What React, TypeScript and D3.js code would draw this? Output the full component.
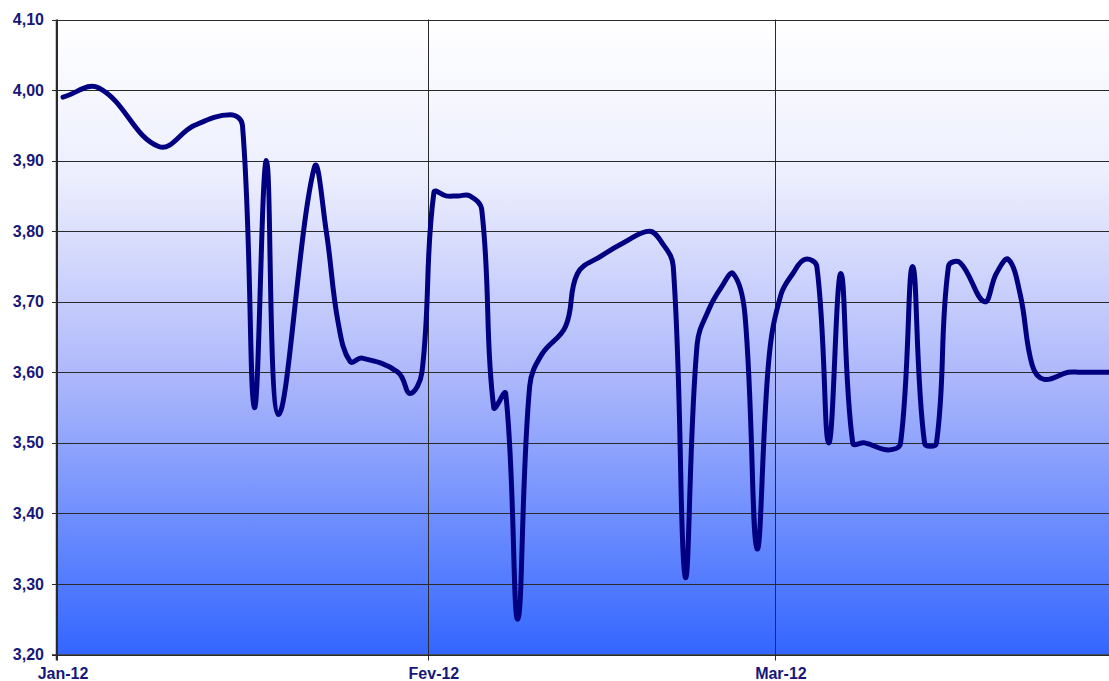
import React from "react";
import * as d3 from "d3";

const DATES: string[] = [
  "2012-01-01","2012-01-04","2012-01-09","2012-01-12","2012-01-15","2012-01-16","2012-01-17","2012-01-18","2012-01-19",
  "2012-01-22","2012-01-23","2012-01-24","2012-01-25","2012-01-26","2012-01-29","2012-01-30","2012-01-31",
  "2012-02-01","2012-02-02","2012-02-03","2012-02-04","2012-02-05","2012-02-06","2012-02-07","2012-02-08","2012-02-09",
  "2012-02-10","2012-02-12","2012-02-13","2012-02-15","2012-02-17","2012-02-19","2012-02-20","2012-02-21","2012-02-22",
  "2012-02-23","2012-02-24","2012-02-25","2012-02-26","2012-02-27","2012-02-28","2012-02-29",
  "2012-03-01","2012-03-02","2012-03-03","2012-03-04","2012-03-05","2012-03-06","2012-03-07","2012-03-08","2012-03-10",
  "2012-03-11","2012-03-12","2012-03-13","2012-03-14","2012-03-15","2012-03-16","2012-03-18","2012-03-19","2012-03-20",
  "2012-03-21","2012-03-22","2012-03-23","2012-03-25","2012-03-26","2012-03-27","2012-03-28","2012-03-29",
];

const VALUES: number[] = [
  3.99, 4.003, 3.92, 3.95, 3.965, 3.95, 3.55, 3.9, 3.54,
  3.89, 3.8, 3.67, 3.615, 3.62, 3.6, 3.57, 3.6,
  3.855, 3.85, 3.85, 3.85, 3.83, 3.55, 3.57, 3.25, 3.58,
  3.625, 3.665, 3.74, 3.765, 3.785, 3.8, 3.785, 3.75, 3.31,
  3.64, 3.69, 3.72, 3.74, 3.68, 3.35, 3.62,
  3.71, 3.74, 3.76, 3.75, 3.5, 3.74, 3.5, 3.5, 3.49,
  3.5, 3.75, 3.5, 3.5, 3.75, 3.755, 3.7, 3.74, 3.76,
  3.71, 3.61, 3.59, 3.6, 3.6, 3.6, 3.6, 3.6,
];

const Y_TICKS: number[] = [3.2, 3.3, 3.4, 3.5, 3.6, 3.7, 3.8, 3.9, 4.0, 4.1];
const X_TICKS: string[] = ["2012-01-01", "2012-02-01", "2012-03-01"];
const X_LABELS: string[] = ["Jan-12", "Fev-12", "Mar-12"];

const W = 1109;
const H = 681;
const LEFT = 57;
const TOP = 19.5;
const BOTTOM = 654.5;
const DAY = 86400000;

const parse = (s: string) => new Date(s + "T00:00:00Z");

// Excel-like smoothing: Bezier with tangents split by neighbouring segment lengths
function smoothPath(p: [number, number][], t: number): string {
  const path = d3.path();
  const n = p.length;
  const ctrl: { a: [number, number]; b: [number, number] }[] = p.map((pt, i) => {
    const p0 = p[Math.max(0, i - 1)];
    const p2 = p[Math.min(n - 1, i + 1)];
    const d01 = Math.hypot(pt[0] - p0[0], pt[1] - p0[1]);
    const d12 = Math.hypot(p2[0] - pt[0], p2[1] - pt[1]);
    const s = d01 + d12 || 1;
    const fa = (t * d01) / s;
    const fb = (t * d12) / s;
    const dx = p2[0] - p0[0];
    const dy = p2[1] - p0[1];
    return {
      a: [pt[0] - fa * dx, pt[1] - fa * dy],
      b: [pt[0] + fb * dx, pt[1] + fb * dy],
    };
  });
  path.moveTo(p[0][0], p[0][1]);
  for (let i = 1; i < n; i++) {
    const c1 = ctrl[i - 1].b;
    const c2 = ctrl[i].a;
    path.bezierCurveTo(c1[0], c1[1], c2[0], c2[1], p[i][0], p[i][1]);
  }
  return path.toString();
}

export default function App() {
  const x = d3
    .scaleUtc()
    .domain([parse("2012-01-01"), parse("2012-03-29")])
    .range([LEFT, 1110]);
  const y = d3.scaleLinear().domain([3.2, 4.1]).range([BOTTOM, TOP]);

  const pts: [number, number][] = DATES.map((d, i) => [
    x(new Date(parse(d).getTime() + DAY / 2)),
    y(VALUES[i]),
  ]);
  const line = smoothPath(pts, 0.4);

  const fmt = (v: number) => v.toFixed(2).replace(".", ",");
  const labelColor = "#17177a";
  const font = "'Liberation Sans', Arial, sans-serif";

  return (
    <svg
      width={W}
      height={H}
      style={{ position: "absolute", left: 0, top: 0, background: "#fff" }}
    >
      <defs>
        <linearGradient id="bg" x1="0" y1="0" x2="0" y2="1">
          <stop offset="0" stopColor="#ffffff" />
          <stop offset="0.25" stopColor="#eceefd" />
          <stop offset="0.55" stopColor="#b0bafb" />
          <stop offset="1" stopColor="#3366ff" />
        </linearGradient>
        <clipPath id="clip">
          <rect x={LEFT} y={0} width={W - LEFT} height={H} />
        </clipPath>
      </defs>
      <rect x={LEFT} y={TOP} width={W - LEFT} height={BOTTOM - TOP} fill="url(#bg)" />
      {Y_TICKS.map((t) => (
        <g key={t}>
          <line
            x1={LEFT - 5}
            x2={W}
            y1={Math.round(y(t)) + 0.5}
            y2={Math.round(y(t)) + 0.5}
            stroke="#2a2a2a"
            strokeWidth={1}
          />
          <text
            x={44}
            y={y(t)}
            dy="0.35em"
            textAnchor="end"
            fontFamily={font}
            fontWeight="bold"
            fontSize={16}
            fill={labelColor}
          >
            {fmt(t)}
          </text>
        </g>
      ))}
      {X_TICKS.map((t, i) => {
        const px = Math.round(x(parse(t))) + 0.5;
        return (
          <g key={t}>
            <line x1={px} x2={px} y1={TOP} y2={BOTTOM + 6} stroke="#2a2a2a" strokeWidth={1} />
            <text
              x={x(new Date(parse(t).getTime() + DAY / 2))}
              y={679}
              textAnchor="middle"
              fontFamily={font}
              fontWeight="bold"
              fontSize={16}
              fill={labelColor}
            >
              {X_LABELS[i]}
            </text>
          </g>
        );
      })}
      <line x1={LEFT - 5} x2={W} y1={BOTTOM + 0.5} y2={BOTTOM + 0.5} stroke="#2a2a2a" strokeWidth={1.5} />
      <line x1={LEFT - 0.5} x2={LEFT - 0.5} y1={TOP} y2={BOTTOM + 6} stroke="#2a2a2a" strokeWidth={1.5} />
      <path
        d={line}
        fill="none"
        stroke="#000080"
        strokeWidth={5}
        strokeLinejoin="round"
        strokeLinecap="round"
        clipPath="url(#clip)"
      />
    </svg>
  );
}
